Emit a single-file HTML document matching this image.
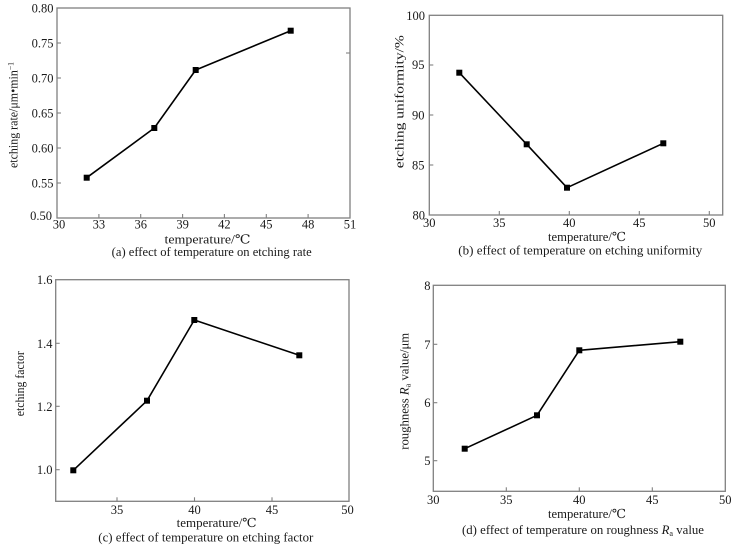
<!DOCTYPE html>
<html>
<head>
<meta charset="utf-8">
<style>
  html,body{margin:0;padding:0;background:#fff;}
  svg{display:block;}
  text{font-family:"Liberation Serif","DejaVu Serif","Noto Serif CJK SC",serif;fill:#1a1a1a;}
  .tk{font-size:12.5px;}
  .lb{font-size:12.5px;}
  .ax{fill:none;stroke:#808080;stroke-width:1.3;}
  .tick{stroke:#808080;stroke-width:1.1;}
  .ln{fill:none;stroke:#000;stroke-width:1.6;stroke-linejoin:round;}
  .mk{fill:#000;}
</style>
</head>
<body>
<svg width="742" height="546" viewBox="0 0 742 546" xmlns="http://www.w3.org/2000/svg">

<!-- ================= (a) ================= -->
<rect class="ax" x="57" y="8" width="293" height="210"/>
<g class="tick">
  <line x1="98.9" y1="218" x2="98.9" y2="214"/>
  <line x1="140.7" y1="218" x2="140.7" y2="214"/>
  <line x1="182.6" y1="218" x2="182.6" y2="214"/>
  <line x1="224.4" y1="218" x2="224.4" y2="214"/>
  <line x1="266.3" y1="218" x2="266.3" y2="214"/>
  <line x1="308.1" y1="218" x2="308.1" y2="214"/>
  <line x1="57" y1="183" x2="61" y2="183"/>
  <line x1="57" y1="148" x2="61" y2="148"/>
  <line x1="57" y1="113" x2="61" y2="113"/>
  <line x1="57" y1="78" x2="61" y2="78"/>
  <line x1="57" y1="43" x2="61" y2="43"/>
  <line x1="350" y1="53" x2="346" y2="53"/>
</g>
<g class="tk" text-anchor="middle">
  <text x="59" y="228.5">30</text>
  <text x="98.9" y="228.5">33</text>
  <text x="140.7" y="228.5">36</text>
  <text x="182.6" y="228.5">39</text>
  <text x="224.4" y="228.5">42</text>
  <text x="266.3" y="228.5">45</text>
  <text x="308.1" y="228.5">48</text>
  <text x="350" y="228.5">51</text>
</g>
<g class="tk" text-anchor="end">
  <text x="52" y="220">0.50</text>
  <text x="53.5" y="187.5">0.55</text>
  <text x="53.5" y="152.5">0.60</text>
  <text x="53.5" y="117.5">0.65</text>
  <text x="53.5" y="82.5">0.70</text>
  <text x="53.5" y="47.5">0.75</text>
  <text x="53.5" y="12.5">0.80</text>
</g>
<text class="lb" transform="translate(17.5,115) rotate(-90)" text-anchor="middle" textLength="106" lengthAdjust="spacingAndGlyphs">etching rate/μm•min<tspan dy="-4" font-size="8">−1</tspan></text>
<text class="lb" x="207.5" y="243.5" text-anchor="middle" textLength="86" lengthAdjust="spacingAndGlyphs">temperature/℃</text>
<text class="lb" x="111.7" y="256" textLength="200" lengthAdjust="spacingAndGlyphs">(a) effect of temperature on etching rate</text>
<polyline class="ln" points="86.7,177.7 154.3,128 195.7,70 290.7,30.7"/>
<g class="mk">
  <rect x="83.7" y="174.7" width="6" height="6"/>
  <rect x="151.3" y="125" width="6" height="6"/>
  <rect x="192.7" y="67" width="6" height="6"/>
  <rect x="287.7" y="27.7" width="6" height="6"/>
</g>

<!-- ================= (b) ================= -->
<rect class="ax" x="429.3" y="15.3" width="293.4" height="199.7"/>
<g class="tick">
  <line x1="499.3" y1="215" x2="499.3" y2="211"/>
  <line x1="569.3" y1="215" x2="569.3" y2="211"/>
  <line x1="639.3" y1="215" x2="639.3" y2="211"/>
  <line x1="709.3" y1="215" x2="709.3" y2="211"/>
  <line x1="429.3" y1="165" x2="433.3" y2="165"/>
  <line x1="429.3" y1="115" x2="433.3" y2="115"/>
  <line x1="429.3" y1="65" x2="433.3" y2="65"/>
</g>
<g class="tk" text-anchor="middle">
  <text x="429.3" y="227">30</text>
  <text x="499.3" y="227">35</text>
  <text x="569.3" y="227">40</text>
  <text x="639.3" y="227">45</text>
  <text x="709.3" y="227">50</text>
</g>
<g class="tk" text-anchor="end">
  <text x="425" y="219.5">80</text>
  <text x="424.5" y="169.5">85</text>
  <text x="424.5" y="119.5">90</text>
  <text x="424.5" y="69">95</text>
  <text x="425" y="20">100</text>
</g>
<text class="lb" transform="translate(403.5,101.7) rotate(-90)" text-anchor="middle" textLength="133" lengthAdjust="spacingAndGlyphs">etching uniformity/%</text>
<text class="lb" x="587" y="241" text-anchor="middle" textLength="78" lengthAdjust="spacingAndGlyphs">temperature/℃</text>
<text class="lb" x="458.3" y="254.5" textLength="244" lengthAdjust="spacingAndGlyphs">(b) effect of temperature on etching uniformity</text>
<polyline class="ln" points="459.3,72.7 526.7,144.3 567,187.7 663.3,143.3"/>
<g class="mk">
  <rect x="456.3" y="69.7" width="6" height="6"/>
  <rect x="523.7" y="141.3" width="6" height="6"/>
  <rect x="564" y="184.7" width="6" height="6"/>
  <rect x="660.3" y="140.3" width="6" height="6"/>
</g>

<!-- ================= (c) ================= -->
<rect class="ax" x="55.7" y="279.7" width="293.3" height="221.6"/>
<g class="tick">
  <line x1="117" y1="501.3" x2="117" y2="497.3"/>
  <line x1="194.5" y1="501.3" x2="194.5" y2="497.3"/>
  <line x1="272" y1="501.3" x2="272" y2="497.3"/>
  <line x1="55.7" y1="469.7" x2="59.7" y2="469.7"/>
  <line x1="55.7" y1="406.3" x2="59.7" y2="406.3"/>
  <line x1="55.7" y1="343.3" x2="59.7" y2="343.3"/>
</g>
<g class="tk" text-anchor="middle">
  <text x="117" y="514">35</text>
  <text x="194.5" y="514">40</text>
  <text x="272" y="514">45</text>
  <text x="347.5" y="514">50</text>
</g>
<g class="tk" text-anchor="end">
  <text x="52.5" y="474.2">1.0</text>
  <text x="52.5" y="410.8">1.2</text>
  <text x="52.5" y="347.8">1.4</text>
  <text x="52.5" y="284.2">1.6</text>
</g>
<text class="lb" transform="translate(24,383.7) rotate(-90)" text-anchor="middle" textLength="65" lengthAdjust="spacingAndGlyphs">etching factor</text>
<text class="lb" x="216.7" y="526.8" text-anchor="middle" textLength="80" lengthAdjust="spacingAndGlyphs">temperature/℃</text>
<text class="lb" x="98.3" y="541.5" textLength="215" lengthAdjust="spacingAndGlyphs">(c) effect of temperature on etching factor</text>
<polyline class="ln" points="73.3,470.3 147,400.7 194.3,320 299.3,355.3"/>
<g class="mk">
  <rect x="70.3" y="467.3" width="6" height="6"/>
  <rect x="144" y="397.7" width="6" height="6"/>
  <rect x="191.3" y="317" width="6" height="6"/>
  <rect x="296.3" y="352.3" width="6" height="6"/>
</g>

<!-- ================= (d) ================= -->
<rect class="ax" x="433.3" y="285.3" width="292" height="206"/>
<g class="tick">
  <line x1="506.3" y1="491.3" x2="506.3" y2="487.3"/>
  <line x1="579.3" y1="491.3" x2="579.3" y2="487.3"/>
  <line x1="652.3" y1="491.3" x2="652.3" y2="487.3"/>
  <line x1="433.3" y1="460.7" x2="437.3" y2="460.7"/>
  <line x1="433.3" y1="402.7" x2="437.3" y2="402.7"/>
  <line x1="433.3" y1="344.3" x2="437.3" y2="344.3"/>
</g>
<g class="tk" text-anchor="middle">
  <text x="433.3" y="504">30</text>
  <text x="506.3" y="504">35</text>
  <text x="579.3" y="504">40</text>
  <text x="652.3" y="504">45</text>
  <text x="725.3" y="504">50</text>
</g>
<g class="tk" text-anchor="end">
  <text x="430.5" y="465.2">5</text>
  <text x="430.5" y="407.2">6</text>
  <text x="430.5" y="348.8">7</text>
  <text x="430.5" y="289.8">8</text>
</g>
<text class="lb" transform="translate(408.5,391.3) rotate(-90)" text-anchor="middle" textLength="117" lengthAdjust="spacingAndGlyphs">roughness <tspan font-style="italic">R</tspan><tspan font-size="8" dy="2">a</tspan><tspan dy="-2"> value/μm</tspan></text>
<text class="lb" x="587" y="518" text-anchor="middle" textLength="78" lengthAdjust="spacingAndGlyphs">temperature/℃</text>
<text class="lb" x="462" y="534" textLength="242" lengthAdjust="spacingAndGlyphs">(d) effect of temperature on roughness <tspan font-style="italic">R</tspan><tspan font-size="8" dy="2">a</tspan><tspan dy="-2"> value</tspan></text>
<polyline class="ln" points="464.7,448.7 537,415.3 579.3,350.3 680.3,341.7"/>
<g class="mk">
  <rect x="461.7" y="445.7" width="6" height="6"/>
  <rect x="534" y="412.3" width="6" height="6"/>
  <rect x="576.3" y="347.3" width="6" height="6"/>
  <rect x="677.3" y="338.7" width="6" height="6"/>
</g>

</svg>
</body>
</html>
